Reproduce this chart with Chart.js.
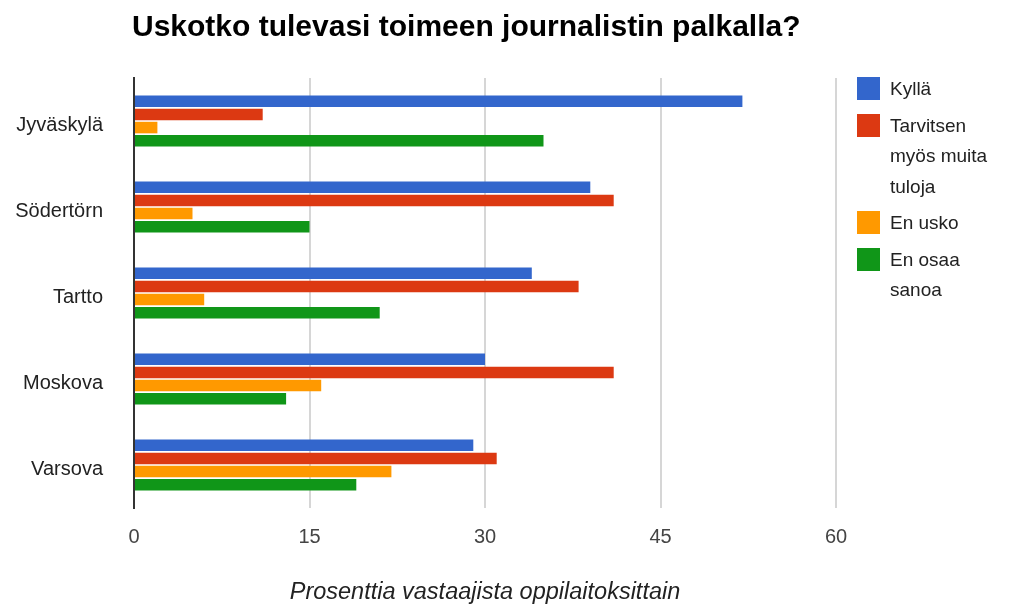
<!DOCTYPE html>
<html>
<head>
<meta charset="utf-8">
<script src="https://cdn.jsdelivr.net/npm/chart.js@4/dist/chart.umd.min.js"></script>
<style>
  body { margin: 0; background: #fff; font-family: "Liberation Sans", Arial, sans-serif; }
  #wrap { position: relative; width: 1016px; height: 608px; }
  #title { position: absolute; left: 132px; top: 9px; font-size: 30px; font-weight: bold; color: #000; }
  #legend { position: absolute; left: 857px; top: 77px; }
  .item { display: flex; align-items: flex-start; margin-bottom: 9px; }
  .box { width: 23px; height: 23px; margin-right: 10px; flex: none; }
  .txt { font-size: 19px; line-height: 30.5px; margin-top: -3px; color: #222; width: 124px; }
</style>
</head>
<body>
<div id="wrap">
  <canvas id="chart" width="1016" height="608"></canvas>
  <div id="title">Uskotko tulevasi toimeen journalistin palkalla?</div>
  <div id="legend"></div>
</div>
<script>
const categories = ['Jyväskylä', 'Södertörn', 'Tartto', 'Moskova', 'Varsova'];
const seriesNames = ['Kyllä', 'Tarvitsen myös muita tuloja', 'En usko', 'En osaa sanoa'];
const kylla = [52, 39, 34, 30, 29];
const tarvitsen = [11, 41, 38, 41, 31];
const enUsko = [2, 5, 6, 16, 22];
const enOsaa = [35, 15, 21, 13, 19];
const xTicks = [0, 15, 30, 45, 60];
const colors = ['#3366cc', '#dc3912', '#ff9900', '#109618'];

const values = [kylla, tarvitsen, enUsko, enOsaa];

// Legend on the right, wraps long names like the original
const legend = document.getElementById('legend');
seriesNames.forEach((name, i) => {
  const item = document.createElement('div');
  item.className = 'item';
  item.innerHTML = '<div class="box" style="background:' + colors[i] + '"></div><div class="txt">' + name + '</div>';
  legend.appendChild(item);
});

const ctx = document.getElementById('chart').getContext('2d');
new Chart(ctx, {
  type: 'bar',
  data: {
    labels: categories,
    datasets: seriesNames.map((name, i) => ({
      label: name,
      data: values[i],
      backgroundColor: colors[i],
      categoryPercentage: 0.61,
      barPercentage: 0.88
    }))
  },
  options: {
    indexAxis: 'y',
    responsive: false,
    animation: false,
    layout: { padding: { top: 78, right: 180, left: 0, bottom: 0 } },
    scales: {
      x: {
        min: 0,
        max: 60,
        afterBuildTicks: scale => { scale.ticks = xTicks.map(v => ({ value: v })); },
        afterFit: scale => { scale.height = 100; },
        grid: { color: '#d6d6d6', lineWidth: 2, drawTicks: false },
        border: { display: false },
        ticks: {
          color: '#444',
          padding: 17,
          font: { family: '"Liberation Sans", Arial', size: 20 }
        },
        title: {
          display: true,
          text: 'Prosenttia vastaajista oppilaitoksittain',
          color: '#222',
          padding: { top: 0, bottom: 1 },
          font: { family: '"Liberation Sans", Arial', size: 23.5, style: 'italic' }
        }
      },
      y: {
        afterFit: scale => { scale.width = 134; },
        grid: { display: false },
        border: { display: true, color: '#333', width: 2 },
        ticks: {
          color: '#222',
          padding: 23,
          labelOffset: 4,
          font: { family: '"Liberation Sans", Arial', size: 20 }
        }
      }
    },
    plugins: {
      legend: { display: false },
      tooltip: { enabled: false }
    }
  }
});
</script>
</body>
</html>
